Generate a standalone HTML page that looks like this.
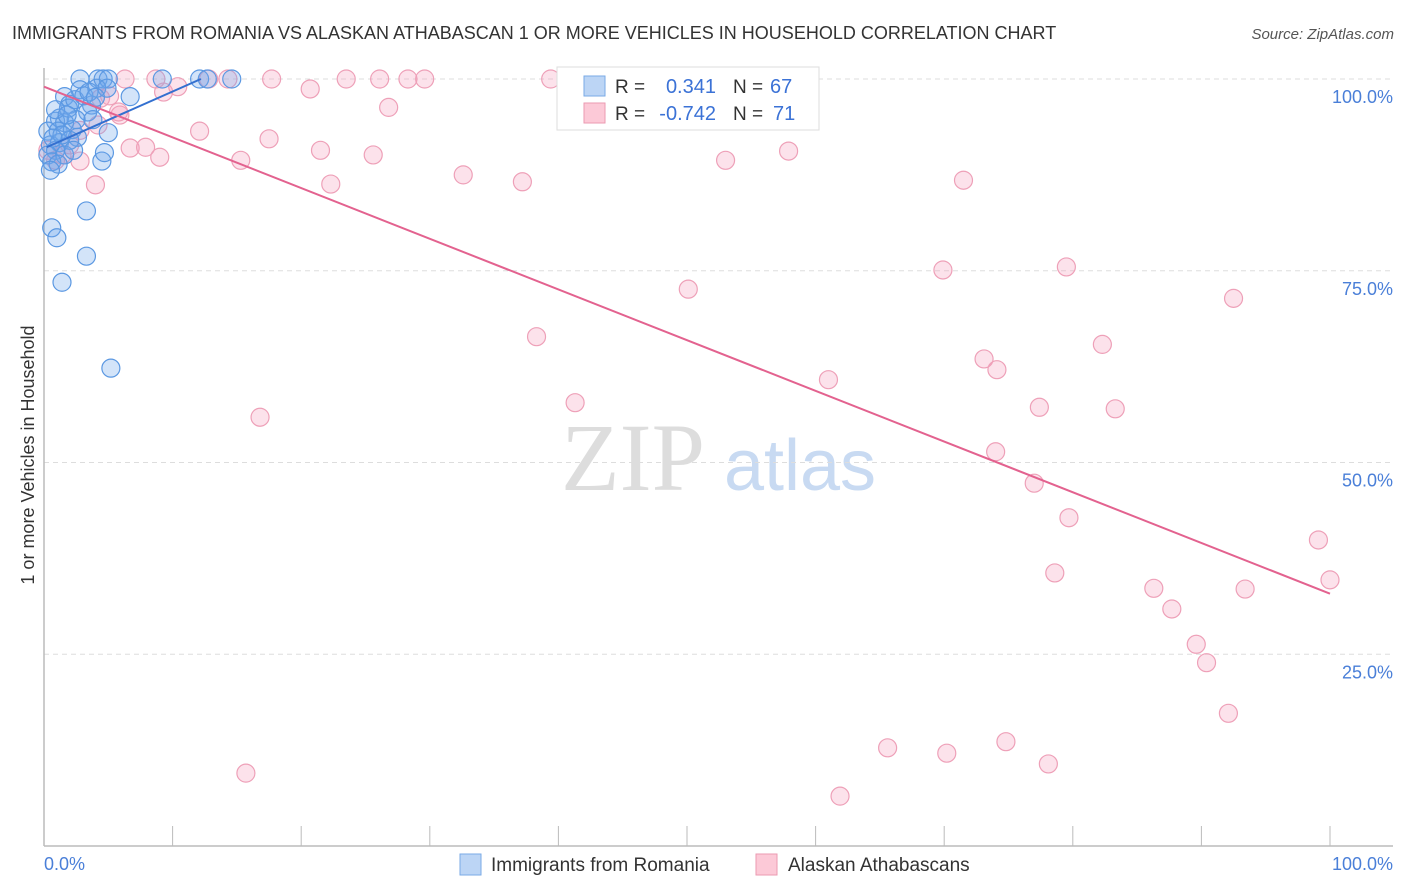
<!DOCTYPE html>
<html><head><meta charset="utf-8"><style>
body{margin:0;background:#fff;font-family:"Liberation Sans",sans-serif;}
svg{display:block}
</style></head><body>
<svg id="chart" width="1406" height="892" xmlns="http://www.w3.org/2000/svg">
<text x="12" y="39" font-size="18" fill="#333">IMMIGRANTS FROM ROMANIA VS ALASKAN ATHABASCAN 1 OR MORE VEHICLES IN HOUSEHOLD CORRELATION CHART</text>
<text x="1394" y="39" font-size="15" fill="#555" font-style="italic" text-anchor="end">Source: ZipAtlas.com</text>
<g>
<text x="633" y="490" font-size="96" font-family="Liberation Serif,serif" fill="#ddd" text-anchor="middle">ZIP</text>
<text x="800" y="490" font-size="72" fill="#c8daf2" text-anchor="middle">atlas</text>
</g>
<g id="grid"></g>
<g id="axes"></g>
<g id="pts"></g>
<g id="lines"></g>
<text transform="translate(34,455) rotate(-90)" font-size="18" fill="#333" text-anchor="middle">1 or more Vehicles in Household</text>
<text x="44" y="870" font-size="18" fill="#4a7fd8">0.0%</text>
<text x="1393" y="870" font-size="18" fill="#4a7fd8" text-anchor="end">100.0%</text>
<g>
<rect x="460" y="854" width="21" height="21" fill="#bcd5f5" stroke="#7aaae6"/>
<text x="491" y="871" font-size="19" fill="#333">Immigrants from Romania</text>
<rect x="756" y="854" width="21" height="21" fill="#fcc9d7" stroke="#eb9ab2"/>
<text x="788" y="871" font-size="19" fill="#333">Alaskan Athabascans</text>
</g>
<g>
<rect x="557" y="67" width="262" height="63" fill="#fff" stroke="#ddd"/>
<rect x="584" y="76" width="21" height="20" fill="#bcd5f5" stroke="#7aaae6"/>
<rect x="584" y="103" width="21" height="20" fill="#fcc9d7" stroke="#eb9ab2"/>
<text x="615" y="93" font-size="19" fill="#333">R =</text>
<text x="716" y="93" font-size="20" fill="#3b72d6" text-anchor="end">0.341</text>
<text x="733" y="93" font-size="19" fill="#333">N =</text>
<text x="770" y="93" font-size="20" fill="#3b72d6">67</text>
<text x="615" y="120" font-size="19" fill="#333">R =</text>
<text x="716" y="120" font-size="20" fill="#3b72d6" text-anchor="end">-0.742</text>
<text x="733" y="120" font-size="19" fill="#333">N =</text>
<text x="773" y="120" font-size="20" fill="#3b72d6">71</text>
</g>
</svg>
<script>
const yTicks=[25,50,75,100];
const yTickLabels=["25.0%","50.0%","75.0%","100.0%"];
const xTicks=[0,10,20,30,40,50,60,70,80,90,100];
const romaniaX=[0.6,1.0,1.4,3.3,3.3,5.2,4.5,4.7,5.0,6.7,2.8,4.2,4.6,5.0,9.2,12.1,12.7,14.6,4.1,4.9,2.8,1.6,2.0,3.7,3.4,2.5,1.2,0.9,1.6,0.3,1.1,2.2,2.6,0.5,1.2,2.0,0.9,0.3,1.6,0.6,1.1,0.5,1.9,2.4,3.1,3.8,0.9,1.8,1.4,0.7,3.5,2.3,4.0];
const romaniaY=[80.6,79.3,73.5,82.8,76.9,62.3,89.3,90.4,93.0,97.7,100,100,100,100,100,100,100,100,98.8,98.8,98.6,97.7,96.7,96.6,95.7,94.7,94.9,94.5,94.3,93.2,93.2,93.4,92.4,91.4,91.7,92.0,90.7,90.1,90.1,89.2,88.9,88.1,96.2,97.3,97.8,94.7,96.0,95.3,92.7,92.3,98.3,90.7,97.6];
const athX=[6.3,8.7,12.8,14.3,17.7,23.5,26.1,28.3,29.6,39.4,20.7,9.3,10.4,26.8,4.2,5.9,12.1,17.5,6.7,7.9,9.0,15.3,21.5,25.6,32.6,37.2,22.3,4.0,2.8,53.0,57.9,71.5,50.1,69.9,79.5,92.5,38.3,82.3,73.1,74.1,61.0,41.3,16.8,77.4,83.3,74.0,77.0,79.7,78.6,99.1,100,86.3,93.4,87.7,89.6,90.4,92.1,65.6,70.2,74.8,78.1,61.9,15.7,4.4,5.1,5.8,0.3,0.9,1.4,2.0,2.8];
const athY=[100,100,100,100,100,100,100,100,100,100,98.7,98.3,99,96.3,94,95.3,93.2,92.2,91,91.1,89.8,89.4,90.7,90.1,87.5,86.6,86.3,86.2,89.3,89.4,90.6,86.8,72.6,75.1,75.5,71.4,66.4,65.4,63.5,62.1,60.8,57.8,55.9,57.2,57.0,51.4,47.3,42.8,35.6,39.9,34.7,33.6,33.5,30.9,26.3,23.9,17.3,12.8,12.1,13.6,10.7,6.5,9.5,97.5,97.8,95.7,90.7,89.4,90.1,91.4,93.3];
const romaniaTrendX=[0.2,12.2];
const romaniaTrendY=[91.1,100];
const athTrendX=[0,100];
const athTrendY=[99.0,32.9];

const NS="http://www.w3.org/2000/svg";
const sx=v=>44+v*12.86;
const sy=v=>846-v*7.67;
function mk(tag,attrs,parent){const e=document.createElementNS(NS,tag);for(const k in attrs)e.setAttribute(k,attrs[k]);parent.appendChild(e);return e;}
const grid=document.getElementById('grid'),axes=document.getElementById('axes'),pts=document.getElementById('pts'),lines=document.getElementById('lines');
yTicks.forEach((t,i)=>{
  const l=mk('line',{x1:44,x2:1393,y1:sy(t),y2:sy(t),stroke:'#ddd','stroke-dasharray':'5,4'},grid);
  
  
  const tx=mk('text',{x:1393,y:sy(t)+24,'font-size':18,fill:'#4a7fd8','text-anchor':'end'},grid);
  tx.textContent=yTickLabels[i];
  
  
});
const ya=mk('line',{x1:44,x2:44,y1:68,y2:846,stroke:'#bbb','stroke-width':1.5},axes);


const xa=mk('line',{x1:44,x2:1393,y1:846,y2:846,stroke:'#bbb','stroke-width':1.5},axes);


xTicks.forEach(t=>{
  const l=mk('line',{x1:sx(t),x2:sx(t),y1:826,y2:846,stroke:'#bbb'},axes);
  
  
});
athX.forEach((x,i)=>{
  const c=mk('circle',{cx:sx(x),cy:sy(athY[i]),r:9,fill:'rgba(245,160,188,0.3)',stroke:'#eea0b8','stroke-width':1.2},pts);
  
  
});
romaniaX.forEach((x,i)=>{
  const c=mk('circle',{cx:sx(x),cy:sy(romaniaY[i]),r:9,fill:'rgba(110,165,235,0.3)',stroke:'#5b98e2','stroke-width':1.2},pts);
  
  
});
const bl=mk('line',{x1:sx(romaniaTrendX[0]),y1:sy(romaniaTrendY[0]),x2:sx(romaniaTrendX[1]),y2:sy(romaniaTrendY[1]),stroke:'#3370d0','stroke-width':2},lines);


const pl=mk('line',{x1:sx(athTrendX[0]),y1:sy(athTrendY[0]),x2:sx(athTrendX[1]),y2:sy(athTrendY[1]),stroke:'#e3628f','stroke-width':2},lines);


</script>
</body></html>
